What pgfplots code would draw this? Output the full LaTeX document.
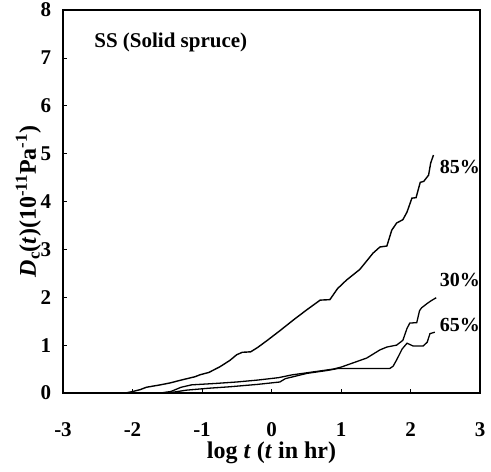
\documentclass[border=0pt]{standalone}
\usepackage{pgfplots}
\pgfplotsset{compat=1.18}
\usepackage{fontspec}
\setmainfont{Liberation Serif}
\begin{document}
\begin{tikzpicture}[font=\fontsize{20}{24}\selectfont\bfseries]
\begin{axis}[
  scale only axis,
  width=417pt, height=383pt,
  xmin=-3, xmax=3, ymin=0, ymax=8,
  xtick={-3,-2,-1,0,1,2,3},
  ytick={0,1,2,3,4,5,6,7,8},
  tick align=inside,
  xtick pos=bottom, ytick pos=left,
  major tick length=4pt,
  tick style={black, line width=0.6pt},
  axis line style={black, line width=1.4pt},
  /pgf/number format/assume math mode=true,
  xticklabel style={anchor=center, yshift=-37pt, font=\fontsize{21}{24}\selectfont\bfseries},
  yticklabel style={anchor=center, xshift=-17pt, font=\fontsize{21}{24}\selectfont\bfseries},
  xlabel={log \textit{t} (\textit{t} in hr)},
  ylabel={\textit{D}\textsubscript{c}(\textit{t})(10\textsuperscript{-11}Pa\textsuperscript{-1})},
  xlabel style={at={(axis description cs:0.5,-0.157)}, anchor=center, font=\fontsize{24}{28}\selectfont\bfseries},
  ylabel style={at={(axis description cs:-0.083,0.5)}, anchor=center, font=\fontsize{24}{28}\selectfont\bfseries},
  clip=false,
]
% 85%
\addplot[black, line width=1.4pt] coordinates {
(-3,0) (-2.1,0) (-2.0,0.03) (-1.89,0.07) (-1.8,0.12) (-1.6,0.17) (-1.46,0.21) (-1.3,0.27) (-1.1,0.34) (-1.03,0.38) (-0.9,0.43) (-0.74,0.55) (-0.6,0.68) (-0.5,0.8) (-0.42,0.85) (-0.3,0.86) (-0.2,0.95) (-0.06,1.1) (0.12,1.3) (0.31,1.52) (0.51,1.74) (0.7,1.94) (0.84,1.95) (0.95,2.18) (1.08,2.36) (1.27,2.58) (1.46,2.92) (1.56,3.05) (1.66,3.07) (1.73,3.4) (1.8,3.55) (1.89,3.62) (1.95,3.78) (2.02,4.07) (2.08,4.08) (2.14,4.4) (2.19,4.42) (2.26,4.55) (2.29,4.8) (2.33,4.97)
};
% 30%
\addplot[black, line width=1.3pt] coordinates {
(-3,0) (-1.6,0) (-1.45,0.03) (-1.3,0.12) (-1.15,0.17) (-0.8,0.2) (-0.5,0.23) (-0.2,0.27) (0.1,0.32) (0.3,0.38) (0.5,0.42) (0.89,0.5) (1.0,0.54) (1.37,0.73) (1.56,0.9) (1.66,0.96) (1.8,1.0) (1.89,1.1) (1.95,1.35) (1.99,1.46) (2.09,1.47) (2.13,1.72) (2.16,1.78) (2.24,1.87) (2.3,1.93) (2.37,1.99)
};
% 65%
\addplot[black, line width=1.3pt] coordinates {
(-3,0) (-1.6,0) (-1.4,0.02) (-1.22,0.06) (-0.9,0.1) (-0.6,0.13) (-0.2,0.18) (0.12,0.23) (0.2,0.3) (0.51,0.41) (0.8,0.47) (0.95,0.51) (1.7,0.51) (1.75,0.56) (1.8,0.69) (1.88,0.92) (1.95,1.04) (2.04,0.98) (2.18,0.98) (2.24,1.06) (2.28,1.24) (2.35,1.27)
};
\node[anchor=center] at (axis cs:2.71,4.72) {85\%};
\node[anchor=center] at (axis cs:2.71,2.36) {30\%};
\node[anchor=center] at (axis cs:2.71,1.42) {65\%};
\node[anchor=west, font=\fontsize{21}{24}\selectfont\bfseries] at (axis cs:-2.6,7.33) {SS (Solid spruce)};
\coordinate (ll) at (rel axis cs:0,0);
\coordinate (ur) at (rel axis cs:1,1);
\end{axis}
\pgfresetboundingbox
\path[use as bounding box] ([shift={(-63pt,-79pt)}]ll) rectangle ([shift={(11pt,10pt)}]ur);
\end{tikzpicture}
\end{document}
